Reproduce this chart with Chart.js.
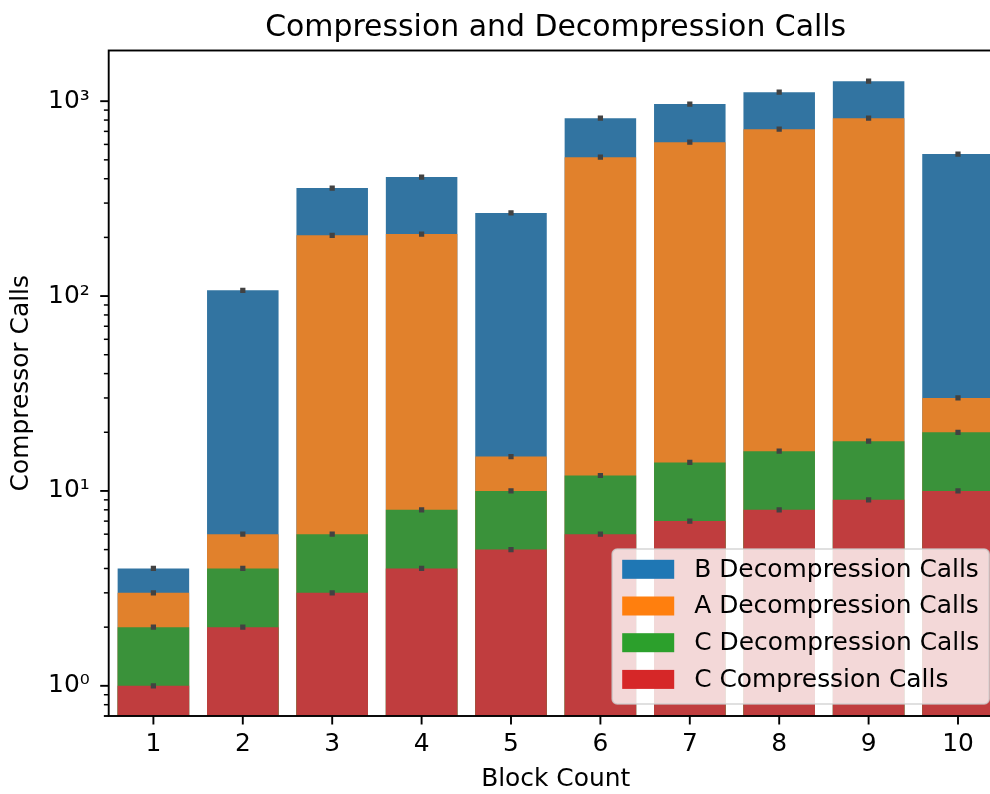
<!DOCTYPE html>
<html>
<head>
<meta charset="utf-8">
<title>Compression and Decompression Calls</title>
<script src="https://cdn.jsdelivr.net/npm/chart.js@4.4.0/dist/chart.umd.min.js"></script>
<style>
    html, body { margin: 0; padding: 0; background: #ffffff; overflow: hidden; }
    #wrap { width: 1012px; height: 794px; }
</style>
</head>
<body>
<div id="wrap"><canvas id="callsChart" width="1012" height="794"></canvas></div>
<script>
// --- Data ---
const blockCounts = ['1', '2', '3', '4', '5', '6', '7', '8', '9', '10'];
const bDecompCalls = [4, 107, 358, 408, 267, 818, 966, 1112, 1267, 535];
const aDecompCalls = [3, 6, 205, 208, 15, 516, 616, 718, 818, 30];
const cDecompCalls = [2, 4, 6, 8, 10, 12, 14, 16, 18, 20];
const cCompCalls = [1, 2, 3, 4, 5, 6, 7, 8, 9, 10];

const seriesLabels = ['B Decompression Calls', 'A Decompression Calls', 'C Decompression Calls', 'C Compression Calls'];
const seriesValues = [bDecompCalls, aDecompCalls, cDecompCalls, cCompCalls];

// bar fill (seaborn desaturated) and legend patch colours
const barColors = ['#3274a1', '#e1812c', '#3a923a', '#c03d3e'];
const legendColors = ['#1f77b4', '#ff7f0e', '#2ca02c', '#d62728'];

const yMin = 0.7;
const yMax = 1820;

const FONT = "'DejaVu Sans', sans-serif";
const FONT_SIZE = 24.9;
const TITLE_SIZE = 29.9;
const SUPERS = { '0': '⁰', '1': '¹', '2': '²', '3': '³', '4': '⁴', '5': '⁵', '6': '⁶', '7': '⁷', '8': '⁸', '9': '⁹', '-': '⁻' };

function toSuper(n) {
    return String(n).split('').map(c => SUPERS[c] || c).join('');
}

// mantissa of a log tick value, or null if it is not a whole 1..9 step
function tickMantissa(v) {
    const e = Math.floor(Math.log10(v) + 1e-9);
    const m = v / Math.pow(10, e);
    return Math.abs(m - Math.round(m)) < 1e-6 ? Math.round(m) : null;
}

// --- Datasets: overlapping bars, largest drawn at the back ---
const datasets = [];
seriesValues.forEach((vals, i) => {
    datasets.push({
        type: 'bar',
        label: seriesLabels[i],
        data: vals,
        backgroundColor: barColors[i],
        borderWidth: 0,
        grouped: false,
        barPercentage: 0.8,
        categoryPercentage: 1.0,
        order: seriesValues.length - i + 1
    });
});
// small dark markers at each bar top (zero-length error bars)
seriesValues.forEach((vals, i) => {
    datasets.push({
        type: 'line',
        label: seriesLabels[i] + ' err',
        data: vals,
        showLine: false,
        pointStyle: 'rect',
        pointRadius: 3.7,
        pointBorderWidth: 0,
        pointBackgroundColor: '#424242',
        order: 0
    });
});

// --- Plugin: matplotlib-like frame and tick marks ---
const axisFrame = {
    id: 'axisFrame',
    afterDatasetsDraw(chart) {
        const { ctx, chartArea: a, scales: { x, y } } = chart;
        ctx.save();
        ctx.strokeStyle = '#000000';
        ctx.lineCap = 'butt';

        y.ticks.forEach(t => {
            const m = tickMantissa(t.value);
            if (m === null) return;
            const py = y.getPixelForValue(t.value);
            const major = m === 1;
            ctx.lineWidth = major ? 1.9 : 1.5;
            const len = major ? 8.5 : 4.8;
            ctx.beginPath();
            ctx.moveTo(a.left - len, py);
            ctx.lineTo(a.left, py);
            ctx.stroke();
        });

        ctx.lineWidth = 1.9;
        x.ticks.forEach((t, i) => {
            const px = x.getPixelForTick(i);
            ctx.beginPath();
            ctx.moveTo(px, a.bottom);
            ctx.lineTo(px, a.bottom + 8.5);
            ctx.stroke();
        });

        ctx.strokeRect(a.left, a.top, a.right - a.left, a.bottom - a.top);
        ctx.restore();
    }
};

// --- Plugin: title and in-axes legend (lower right) ---
const titleAndLegend = {
    id: 'titleAndLegend',
    afterDraw(chart) {
        const { ctx, chartArea: a } = chart;
        ctx.save();

        // title
        ctx.fillStyle = '#000000';
        ctx.font = TITLE_SIZE + 'px ' + FONT;
        ctx.textAlign = 'center';
        ctx.textBaseline = 'alphabetic';
        ctx.fillText('Compression and Decompression Calls', (a.left + a.right) / 2, 35.7);

        // legend box
        const w = 377, h = 155;
        const right = a.right - 13.5;
        const bottom = a.bottom - 12;
        const left = right - w, top = bottom - h;
        const r = 5;
        ctx.beginPath();
        ctx.moveTo(left + r, top);
        ctx.lineTo(right - r, top);
        ctx.arcTo(right, top, right, top + r, r);
        ctx.lineTo(right, bottom - r);
        ctx.arcTo(right, bottom, right - r, bottom, r);
        ctx.lineTo(left + r, bottom);
        ctx.arcTo(left, bottom, left, bottom - r, r);
        ctx.lineTo(left, top + r);
        ctx.arcTo(left, top, left + r, top, r);
        ctx.closePath();
        ctx.fillStyle = 'rgba(255,255,255,0.8)';
        ctx.fill();
        ctx.lineWidth = 1.6;
        ctx.strokeStyle = 'rgba(204,204,204,0.8)';
        ctx.stroke();

        ctx.font = FONT_SIZE + 'px ' + FONT;
        ctx.textAlign = 'left';
        ctx.textBaseline = 'middle';
        seriesLabels.forEach((label, i) => {
            const cy = top + 20.3 + i * 36.7;
            ctx.fillStyle = legendColors[i];
            ctx.fillRect(left + 10, cy - 9.5, 52, 19);
            ctx.fillStyle = '#000000';
            ctx.fillText(label, left + 82, cy + 1);
        });
        ctx.restore();
    }
};

function initCallsChart(ctxId) {
    const ctx = document.getElementById(ctxId)?.getContext('2d');
    if (!ctx) {
        console.warn(`Canvas element with ID '${ctxId}' not found.`);
        return;
    }
    new Chart(ctx, {
        data: {
            labels: blockCounts,
            datasets: datasets
        },
        options: {
            responsive: false,
            animation: false,
            events: [],
            layout: {
                padding: { top: 50.5, right: 9.3, bottom: 0, left: 0 }
            },
            plugins: {
                legend: { display: false },
                tooltip: { enabled: false },
                title: { display: false }
            },
            scales: {
                x: {
                    type: 'category',
                    offset: true,
                    grid: { display: false, drawTicks: false },
                    border: { display: false },
                    ticks: {
                        color: '#000000',
                        font: { family: FONT, size: FONT_SIZE },
                        padding: 14,
                        maxRotation: 0,
                        autoSkip: false
                    },
                    title: {
                        display: true,
                        text: 'Block Count',
                        color: '#000000',
                        font: { family: FONT, size: FONT_SIZE },
                        padding: { top: 0, bottom: 0 }
                    },
                    afterFit(scale) {
                        scale.height = 78;
                    }
                },
                y: {
                    type: 'logarithmic',
                    min: yMin,
                    max: yMax,
                    grid: { display: false, drawTicks: false },
                    border: { display: false },
                    ticks: {
                        color: '#000000',
                        font: { family: FONT, size: FONT_SIZE },
                        padding: 19,
                        autoSkip: false,
                        callback(value) {
                            const e = Math.log10(value);
                            const r = Math.round(e);
                            return Math.abs(e - r) < 1e-9 ? '10' + toSuper(r) : '';
                        }
                    },
                    title: {
                        display: true,
                        text: 'Compressor Calls',
                        color: '#000000',
                        font: { family: FONT, size: FONT_SIZE },
                        padding: { top: 7, bottom: 7 }
                    },
                    afterFit(scale) {
                        scale.width = 108.7;
                    }
                }
            }
        },
        plugins: [axisFrame, titleAndLegend]
    });
}

document.addEventListener('DOMContentLoaded', function () {
    initCallsChart('callsChart');
});
</script>
</body>
</html>
